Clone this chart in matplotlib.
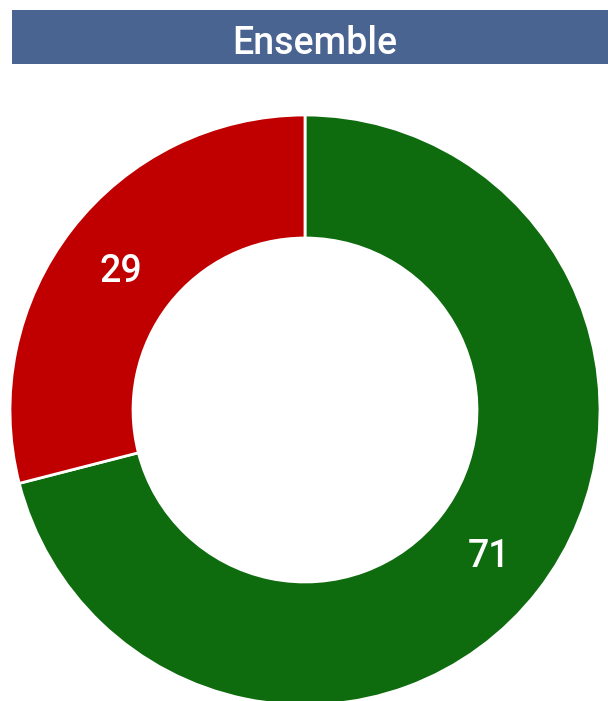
import matplotlib
matplotlib.use("Agg")
import matplotlib.pyplot as plt
from matplotlib.patches import Rectangle

categories = ["Oui", "Non"]
values = [71, 29]
colors = ["#0e6b0e", "#c00000"]
title = "Ensemble"

plt.rcParams['font.family'] = ['Roboto', 'DejaVu Sans']

W, H = 608, 701
fig = plt.figure(figsize=(W/100, H/100), dpi=100)

# title bar
fig.patches.append(Rectangle((12/W, (H-64)/H), (W-12)/W, 54/H,
                             transform=fig.transFigure, facecolor="#4a6491",
                             edgecolor="none", zorder=0))
fig.text(315/W, (H-39)/H, title, color="white", fontsize=27,
         ha="center", va="center_baseline", fontweight="medium")

cx, cy, R = 305, 410, 295
ax = fig.add_axes([(cx-R)/W, (H-cy-R)/H, 2*R/W, 2*R/H])
wedges, texts = ax.pie(values, colors=colors, startangle=90, counterclock=False,
                       radius=1.0,
                       wedgeprops=dict(width=0.417, edgecolor="white", linewidth=2),
                       labels=[str(v) for v in values], labeldistance=0.79,
                       textprops=dict(color="white", fontsize=27, fontweight="medium"))
for t in texts:
    t.set_ha("center")
    t.set_va("center_baseline")
ax.set_xlim(-1, 1)
ax.set_ylim(-1, 1)
ax.set_aspect("equal")
ax.axis("off")

fig.savefig("out.png", dpi=100)
